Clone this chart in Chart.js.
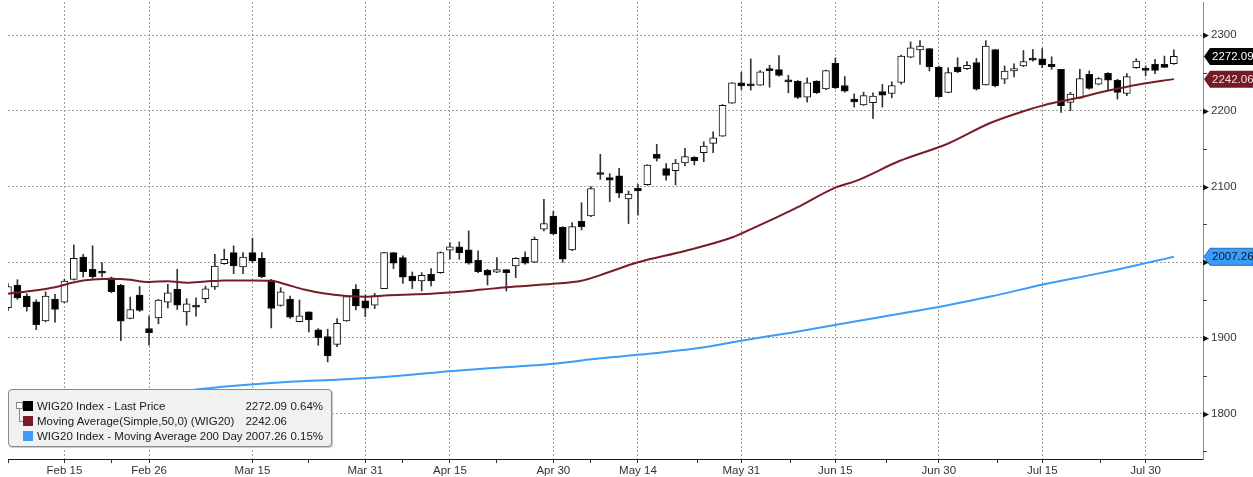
<!DOCTYPE html>
<html lang="en">
<head>
<meta charset="UTF-8" />
<title>WIG20 Index</title>
<script src="https://cdn.jsdelivr.net/npm/chart.js@4.4.1/dist/chart.umd.min.js"></script>
<style>
  html, body { margin: 0; padding: 0; background: #fff; }
  #wrap { position: relative; width: 1253px; height: 477px; }
  #legend {
    position: absolute; left: 8px; top: 389px; width: 324px; height: 58px; box-sizing: border-box;
    background: #f1f1f1; border: 1px solid #8a8a8a; border-radius: 4px; box-shadow: 1px 1px 1px #c8c8c8;
    font-family: 'Liberation Sans', Arial, sans-serif;
    font-size: 11.5px; color: #1a1a1a;
  }
  #legend .row { position: absolute; left: 0; height: 14px; width: 100%; line-height: 14px; }
  #legend .sw { position: absolute; left: 14px; top: 2px; width: 10px; height: 10px; }
  #legend .name { position: absolute; left: 28px; white-space: nowrap; }
  #legend .val { position: absolute; right: 44px; }
  #legend .pct { position: absolute; right: 8px; }
  #legend .tree { position: absolute; left: 7px; top: 12px; width: 5px; height: 5px; border: 1px solid #8a8a8a; background: #fff; }
  #legend .stem { position: absolute; left: 10px; top: 19px; width: 4px; height: 12px; border-left: 1px solid #8a8a8a; border-bottom: 1px solid #8a8a8a; }
</style>
</head>
<body>
<div id="wrap">
  <canvas id="wig"></canvas>
  <div id="legend"><div class="tree"></div><div class="stem"></div></div>
</div>
<script>
// trading days Feb 5 .. Aug 4, one candle each (index = trading day)
const open = [1940,1970,1955.3,1947.8,1922.6,1951.3,1947.3,1977.4,2007,1990.7,1986.5,1979.6,1969.5,1925.7,1956.6,
  1912.4,1926.5,1947.3,1964.2,1934.5,1940.9,1951.8,1967.3,1998.2,2012.8,1993.8,2012.8,2005.3,1976.5,1942.9,
  1950.9,1921.6,1934.4,1910.6,1901.8,1891.6,1922.5,1964.3,1948.9,1943.2,1965.2,2012.8,2006.2,1981.9,1975.3,
  1984.1,1986.3,2015.9,2020.3,2016.3,2002.6,1989.4,1986.8,1990.3,1995.2,2006.6,2000,2043.6,2061.2,2046.3,
  2016.3,2054.2,2061.2,2116.3,2111.9,2114.1,2083.7,2097.8,2102.6,2142.6,2123.7,2121.1,2131.2,2138.7,2144.8,
  2157.1,2166.8,2210.3,2237.2,2235,2234.1,2255.2,2254.7,2241.1,2239.4,2218.3,2239.4,2229.2,2263.1,2233.6,
  2215.6,2208.1,2210.8,2225.7,2223.1,2237.6,2271.2,2280.8,2282.5,2258.1,2224.5,2258.1,2255.9,2263.8,2234.5,
  2281.2,2241.9,2252.8,2259.4,2269,2269,2261.6,2255,2211.4,2217,2248.5,2235.4,2249.8,2240.6,2223.1,
  2257.2,2255,2261.6,2261.6,2262.4];
const high = [1972,1977,1958.4,1950.4,1961,1957.5,1977.4,2023,2010.6,2021.7,1999.6,1980.5,1970.8,1954,1968,
  1928.8,1950.9,1970.8,1990.7,1951.8,1953,1968.6,2010.6,2017.3,2021.7,2012.8,2031.9,2012.8,1977.4,1966.4,
  1955.3,1950.2,1934.4,1912.3,1911.5,1925.6,1955,1970.5,1956.8,1959,2013,2013,2008.4,1987.2,1986.3,
  1991.6,2013.7,2026,2026.9,2041.4,2015,1990.7,2006.2,1990.3,2006.2,2013.7,2033.5,2083.3,2067.4,2047.1,
  2052.4,2078.8,2100,2142.6,2117.1,2124.2,2094.3,2103.1,2129,2155.8,2130.3,2136,2150.6,2139.6,2159.3,
  2172.5,2208.6,2237.6,2251.2,2268.8,2253.4,2260.5,2273.2,2247.3,2240.2,2243.7,2240,2254,2270.1,2245.5,
  2222.6,2224.8,2224,2235,2238.5,2273.8,2291.3,2293,2282.5,2259.4,2257.2,2270.3,2265.1,2269.4,2293,
  2281.5,2259.4,2262.4,2279.9,2281.2,2282.5,2271.6,2255,2224.5,2255,2252.8,2244.1,2250.7,2241.9,2249.3,
  2269,2259.4,2268.1,2272.5,2280.8];
const low = [1936,1951,1935.4,1911,1921.2,1921,1946.4,1976.5,1980.5,1978.8,1980.5,1959.7,1896.5,1925.2,1935,
  1890.3,1918.6,1939.8,1937.6,1916.8,1928.8,1946.5,1964.2,1997.3,1985,1985,1999.6,1979.6,1913.3,1942,
  1925.7,1921.2,1908,1890.3,1868.3,1888.6,1922,1937,1928.2,1938.8,1965,1991.6,1972.2,1965.2,1962.1,
  1968.7,1985.5,2004,2004,1997.4,1986.3,1970,1986.3,1962.1,1979.7,1997.4,1999.6,2041.4,2036.6,2000,
  2015.4,2042.7,2060.3,2109.7,2080.2,2085.5,2051.2,2062.6,2102,2133.8,2108.4,2102.2,2127.3,2128.6,2133,
  2144.8,2166.4,2209.9,2228.4,2227.5,2233.6,2231.4,2245.9,2224,2216.5,2211.7,2223,2228,2229.7,2224.8,
  2205.1,2207.3,2190.1,2205.1,2217.4,2235.4,2270.3,2261.6,2252.8,2217.9,2224,2250.7,2255,2227.5,2234.1,
  2231.9,2236.2,2245,2258.5,2265.9,2257.2,2255,2198.2,2200.4,2216.6,2228.8,2234.5,2226.6,2215.7,2220.1,
  2256.3,2246.3,2249.3,2257.2,2261.6];
const close = [1968,1953,1941,1917.7,1955.3,1937.6,1975.2,2005.3,1987.6,1981,1985.5,1961,1922.1,1937.6,1936.3,
  1907.1,1950,1959.7,1943.4,1945.1,1940.7,1965,1995.1,2004,1995.1,2007,2001.8,1981,1938.9,1961,
  1927.4,1929.1,1923.8,1900.4,1876.2,1919.4,1954.6,1942.3,1939.2,1955.5,2012.8,1998.7,1980.2,1975.3,1982.8,
  1975.3,2012.8,2020.3,2012.8,1998.7,1987.7,1982.8,1990.3,1986.3,2005.3,1998.7,2030.4,2051.1,2037.4,2004,
  2047.1,2047.1,2097.4,2116,2108.4,2091.2,2090.3,2094.3,2128.6,2137.4,2114.9,2131.2,2139.6,2134.3,2153.6,
  2164.6,2207.3,2237.2,2233.2,2233.2,2251.7,2253.4,2246.8,2238.5,2217.8,2237.2,2224,2253.4,2230.6,2226.2,
  2212.1,2220.4,2219.6,2220.9,2233.6,2272.5,2283.4,2285.6,2258.1,2218.8,2250.7,2251.5,2260.3,2228.8,2285.6,
  2233.2,2252.8,2255.9,2265.1,2267.2,2260.7,2258.5,2207,2222.3,2242.8,2229.7,2242.8,2240.6,2224.5,2245.4,
  2265.9,2253.7,2253.7,2257.6,2272.09];

// 50-day simple moving average, read at these trading-day positions
const ma50Day = [0,3,5,6.5,8,10,12,15,17,19,21,23,26,28,29.5,31.5,33.5,36,38,40.5,45,47,50.5,53,58,61,63,67,72,77,78,80.3,84,88,90.2,94.8,100,104.4,108,110,111.5,113.7,116.9,120.4,124];
const ma50Val = [1958.5,1963,1967,1972,1976,1978,1978,1974,1975,1973,1974.5,1976,1976,1975.5,1971,1964,1959,1955.5,1954.5,1956.5,1958.5,1960,1964,1967,1971.5,1975.5,1983,2000,2015,2032.7,2038,2051,2073,2098.7,2107.5,2133.8,2157,2183.8,2199.6,2207,2211.4,2217,2226.6,2235.4,2242.06];

// 200-day moving average
const ma200Day = [0,19.4,30,35.4,41.7,47,52.4,58.1,63,67.3,73.7,78.3,83.3,88.4,93.9,99.4,104.6,110.2,116.3,121.4,124];
const ma200Val = [1796,1831,1842,1845,1850,1856,1861,1866,1873,1878,1887,1897,1907,1918,1930,1942,1955,1971,1986,2000,2007.26];

// date axis labels (trading-day index of each label)
const dateTickDay = [6,15,26,38,47,58,67,78,88,99,110,121];
const dateTickLabel = ['Feb 15','Feb 26','Mar 15','Mar 31','Apr 15','Apr 30','May 14','May 31','Jun 15','Jun 30','Jul 15','Jul 30'];
const minorTickDay = [0,11,32,42,52,62,73.3,83.2,93.4,105.2,116.2];
const priceTicks = [1800,1900,2000,2100,2200,2300];

const seriesNames = ['WIG20 Index - Last Price','Moving Average(Simple,50,0) (WIG20)','WIG20 Index - Moving Average 200 Day'];
const seriesColors = ['#000000','#7a1c28','#3d9cf5'];
const seriesChange = ['0.64%','','0.15%'];

const FONT = "'Liberation Sans', Arial, sans-serif";

const wicks = low.map((l, i) => ({ x: i, y: [l, high[i]] }));
const bodies = open.map((o, i) => ({ x: i, y: [o, close[i]] }));
const lastValues = [close[close.length - 1], ma50Val[ma50Val.length - 1], ma200Val[ma200Val.length - 1]];

// legend box
const legend = document.getElementById('legend');
seriesNames.forEach((name, k) => {
  const row = document.createElement('div');
  row.className = 'row';
  row.style.top = (9 + k * 15) + 'px';
  row.innerHTML = '<span class="sw" style="background:' + seriesColors[k] + '"></span>' +
    '<span class="name">' + name + '</span>' +
    '<span class="val">' + lastValues[k].toFixed(2) + '</span>' +
    '<span class="pct">' + seriesChange[k] + '</span>';
  legend.appendChild(row);
});

const axisMarks = {
  id: 'axisMarks',
  afterDraw(chart) {
    const { ctx, chartArea, scales: { y } } = chart;
    const ax = chartArea.right;
    ctx.save();
    // arrows at the labelled prices, small marks halfway
    ctx.strokeStyle = '#444';
    ctx.lineWidth = 1;
    priceTicks.forEach((v) => {
      const py = Math.round(y.getPixelForValue(v)) + 0.5;
      ctx.fillStyle = '#111';
      ctx.beginPath();
      ctx.moveTo(ax, py - 3);
      ctx.lineTo(ax + 6, py);
      ctx.lineTo(ax, py + 3);
      ctx.closePath();
      ctx.fill();
      const mid = Math.round(y.getPixelForValue(v + 50)) + 0.5;
      if (mid > chartArea.top) {
        ctx.beginPath();
        ctx.moveTo(ax, mid);
        ctx.lineTo(ax + 4, mid);
        ctx.stroke();
      }
    });
    const low50 = Math.round(y.getPixelForValue(priceTicks[0] - 50)) + 0.5;
    ctx.beginPath(); ctx.moveTo(ax, low50); ctx.lineTo(ax + 4, low50); ctx.stroke();

    // last value tags
    const tagFill = ['#000000', '#741a26', '#3d9cf5'];
    const tagText = ['#ffffff', '#f3dde0', '#0d1b2a'];
    ctx.font = '11.5px ' + FONT;
    ctx.textBaseline = 'middle';
    ctx.textAlign = 'left';
    lastValues.forEach((v, k) => {
      const py = y.getPixelForValue(v);
      const x0 = ax + 1, h = 17;
      ctx.fillStyle = tagFill[k];
      ctx.beginPath();
      ctx.moveTo(x0, py);
      ctx.lineTo(x0 + 6, py - h / 2);
      ctx.lineTo(chart.width, py - h / 2);
      ctx.lineTo(chart.width, py + h / 2);
      ctx.lineTo(x0 + 6, py + h / 2);
      ctx.closePath();
      ctx.fill();
      if (k === 2) { ctx.strokeStyle = '#1c6fc4'; ctx.stroke(); }
      ctx.fillStyle = tagText[k];
      ctx.fillText(v.toFixed(2), x0 + 8, py + 0.5);
    });
    ctx.restore();
  }
};

new Chart(document.getElementById('wig'), {
  type: 'bar',
  data: {
    datasets: [
      {
        type: 'line', data: ma50Day.map((d, i) => ({ x: d, y: ma50Val[i] })),
        borderColor: '#7a1c28', borderWidth: 2, pointRadius: 0, cubicInterpolationMode: 'monotone', order: 0, clip: 0
      },
      {
        type: 'line', data: ma200Day.map((d, i) => ({ x: d, y: ma200Val[i] })),
        borderColor: '#3d9cf5', borderWidth: 2, pointRadius: 0, cubicInterpolationMode: 'monotone', order: 0, clip: 0
      },
      {
        data: bodies, order: 1, grouped: false, barThickness: 7, minBarLength: 2,
        backgroundColor: close.map((c, i) => c >= open[i] ? '#ffffff' : '#000000'),
        borderColor: '#111', borderWidth: 1, borderSkipped: false, clip: 0
      },
      {
        data: wicks, order: 2, grouped: false, barThickness: 1,
        backgroundColor: '#333', borderWidth: 0, clip: 0
      }
    ]
  },
  options: {
    responsive: true,
    maintainAspectRatio: false,
    animation: false,
    layout: { padding: { left: 8, top: 2, right: 0, bottom: 0 } },
    plugins: { legend: { display: false }, tooltip: { enabled: false } },
    scales: {
      x: {
        type: 'linear', min: 0, max: 127.1, offset: false,
        grid: {
          offset: false, tickLength: 4, tickColor: '#333',
          color: (c) => (c.tick && c.tick.minor ? 'rgba(0,0,0,0)' : '#9c9c9c')
        },
        border: { display: true, color: '#1a1a1a', dash: [2, 2] },
        ticks: {
          autoSkip: false, maxRotation: 0, padding: 1, color: '#333',
          font: { family: FONT, size: 11.5 },
          callback: (v) => { const k = dateTickDay.indexOf(v); return k >= 0 ? dateTickLabel[k] : ''; }
        },
        afterBuildTicks: (s) => {
          s.ticks = dateTickDay.map((d) => ({ value: d }))
            .concat(minorTickDay.map((d) => ({ value: d, minor: true })));
        },
        afterFit: (s) => { s.height = 18; s.paddingLeft = 0; s.paddingRight = 0; }
      },
      y: {
        position: 'right', min: 1740, max: 2344,
        grid: { color: '#9c9c9c', drawTicks: false },
        border: { display: true, color: '#8c8c8c', dash: [2, 2] },
        ticks: { padding: 8, color: '#333', font: { family: FONT, size: 11.5 }, callback: (v) => String(v) },
        afterBuildTicks: (s) => { s.ticks = priceTicks.map((v) => ({ value: v })); },
        afterFit: (s) => { s.width = 50; s.paddingTop = 0; s.paddingBottom = 0; }
      }
    }
  },
  plugins: [axisMarks]
});
</script>
</body>
</html>
